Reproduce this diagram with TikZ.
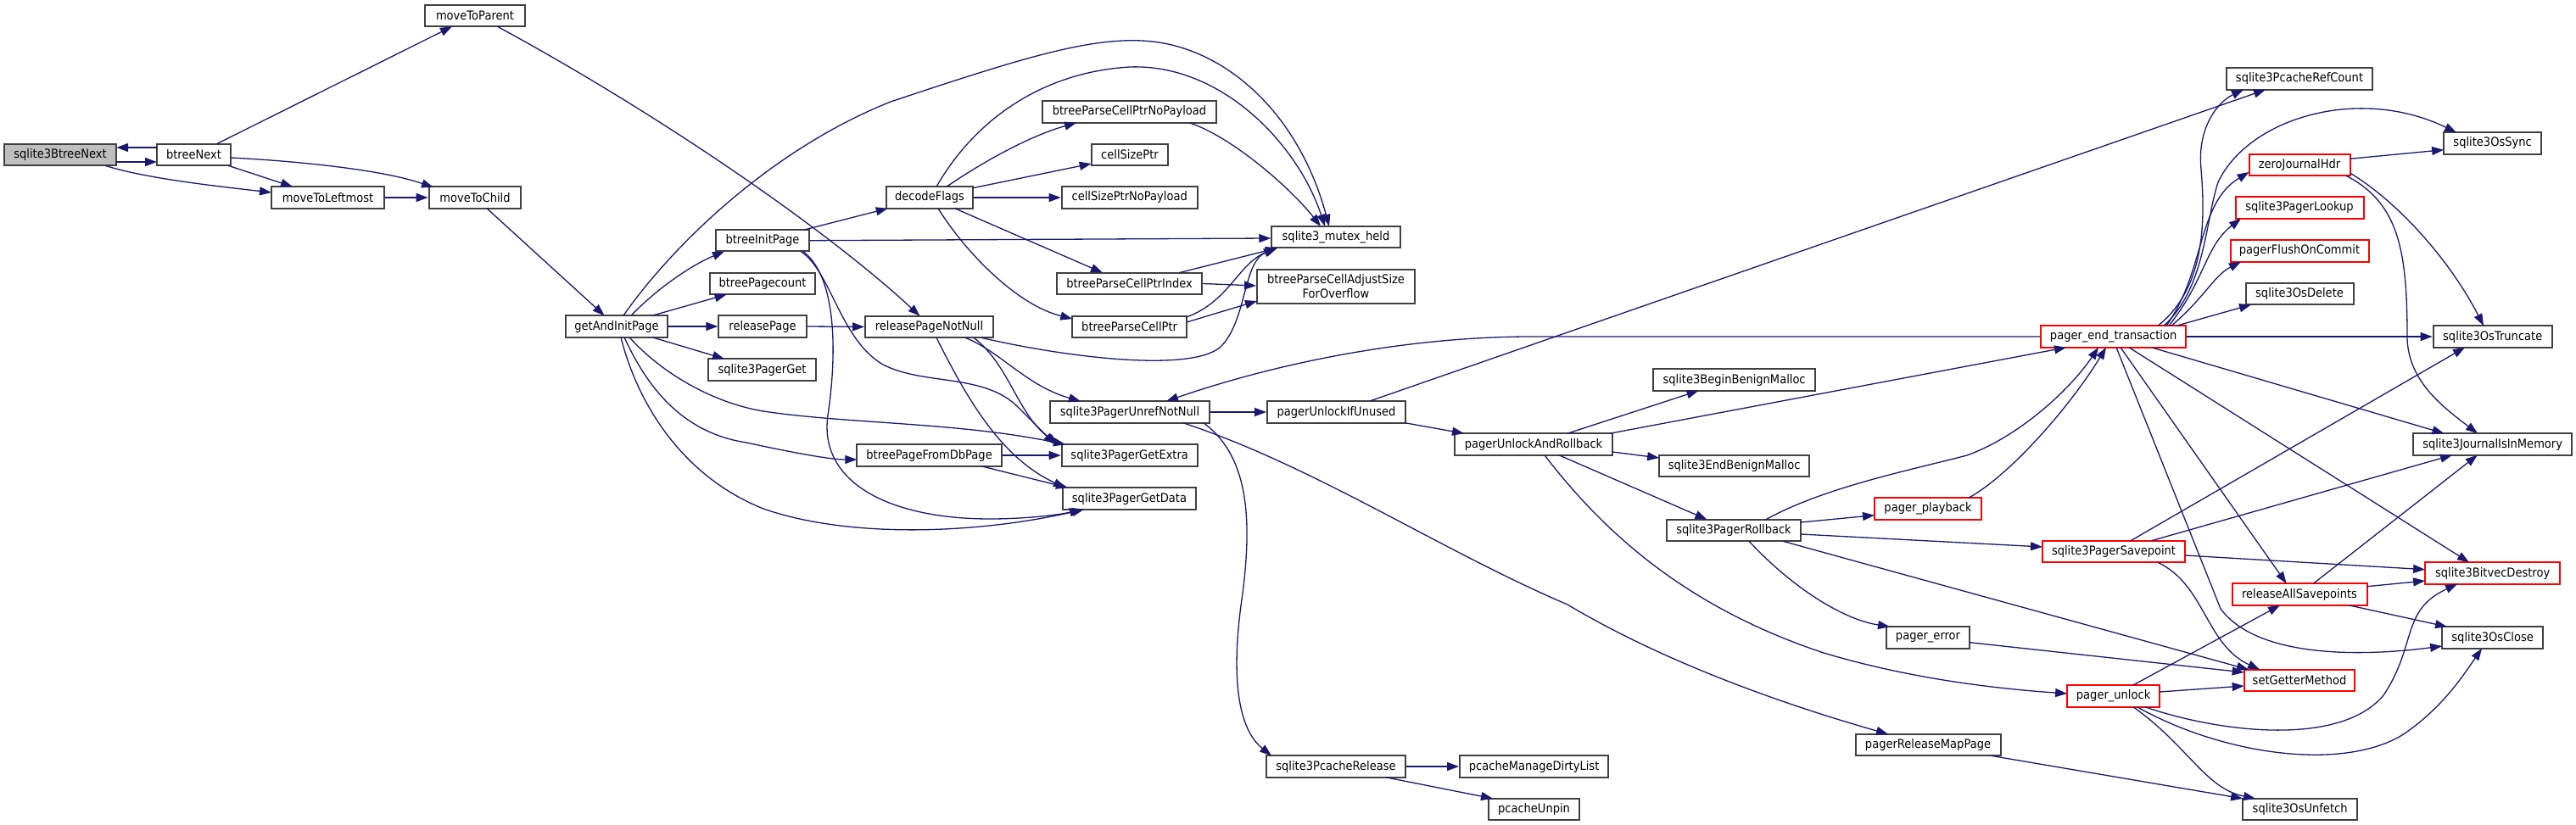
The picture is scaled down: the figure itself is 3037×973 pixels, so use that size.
\documentclass[tikz,border=0pt]{standalone}
\usepackage{fontspec}
\setmainfont{DejaVu Sans}[FakeStretch=0.9]
\usetikzlibrary{arrows.meta,calc}
\definecolor{edgeblue}{HTML}{191970}
\definecolor{boxgrey}{HTML}{404040}
\definecolor{rootfill}{HTML}{BFBFBF}
\tikzset{
  fn/.style={draw=boxgrey, line width=2pt, fill=white, minimum height=25.6pt, inner sep=0pt,
    font=\fontsize{14.5}{17}\selectfont, text=black},
  fnred/.style={fn, draw=red},
  fnroot/.style={fn, fill=rootfill},
  edge/.style={draw=edgeblue, line width=1.3pt, -{Triangle[length=14pt,width=10pt]}},
}
\begin{document}
\begin{tikzpicture}[x=1pt,y=-1pt]
\useasboundingbox[fill=white] (0,0) rectangle (3037,973);
% nodes
\node[fnroot, minimum width=132.4pt] (root) at (71,182.5) {sqlite3BtreeNext};
\node[fn, minimum width=87pt] (btreeNext) at (228.5,182.5) {btreeNext};
\node[fn, minimum width=117.5pt] (moveToParent) at (560,18.5) {moveToParent};
\node[fn, minimum width=133pt] (moveToLeftmost) at (386.5,233) {moveToLeftmost};
\node[fn, minimum width=108.6pt] (moveToChild) at (560,233) {moveToChild};
\node[fn, minimum width=120.5pt] (getAndInit) at (727,385) {getAndInitPage};
\node[fn, minimum width=109.5pt] (btreeInitPage) at (899,283.7) {btreeInitPage};
\node[fn, minimum width=124pt] (btreePagecount) at (899,334.5) {btreePagecount};
\node[fn, minimum width=103.3pt] (releasePage) at (899,385) {releasePage};
\node[fn, minimum width=127pt] (pagerGet) at (898.5,436) {sqlite3PagerGet};
\node[fn, minimum width=151pt] (rpnn) at (1095.5,385.5) {releasePageNotNull};
\node[fn, minimum width=102.3pt] (decodeFlags) at (1096,233) {decodeFlags};
\node[fn, minimum width=205.5pt] (noPayload) at (1331.5,132) {btreeParseCellPtrNoPayload};
\node[fn, minimum width=90.6pt] (cellSizePtr) at (1332,182.5) {cellSizePtr};
\node[fn, minimum width=160pt] (cellSizePtrNP) at (1331.7,233) {cellSizePtrNoPayload};
\node[fn, minimum width=170.6pt] (ptrIndex) at (1331.6,334.5) {btreeParseCellPtrIndex};
\node[fn, minimum width=134.7pt] (ptr) at (1331.6,385.5) {btreeParseCellPtr};
\node[fn, minimum width=151.5pt] (mutex) at (1575,279.7) {sqlite3\_mutex\_held};
\node[fn, minimum width=186pt, minimum height=40pt, align=center] (adjust) at (1575,338) {btreeParseCellAdjustSize\\ForOverflow};
\node[fn, minimum width=188.5pt] (unref) at (1332,486) {sqlite3PagerUnrefNotNull};
\node[fn, minimum width=163pt] (unlockIfUnused) at (1575.5,486) {pagerUnlockIfUnused};
\node[fn, minimum width=170.6pt] (fromDbPage) at (1095.6,537) {btreePageFromDbPage};
\node[fn, minimum width=160pt] (getExtra) at (1331.7,537) {sqlite3PagerGetExtra};
\node[fn, minimum width=157pt] (getData) at (1331.5,588) {sqlite3PagerGetData};
\node[fn, minimum width=164pt] (pcacheRelease) at (1575,904) {sqlite3PcacheRelease};
\node[fn, minimum width=191pt] (beginBenign) at (2044.6,448) {sqlite3BeginBenignMalloc};
\node[fn, minimum width=185.6pt] (unlockAndRollback) at (1808,524) {pagerUnlockAndRollback};
\node[fn, minimum width=177pt] (endBenign) at (2044.6,549.6) {sqlite3EndBenignMalloc};
\node[fn, minimum width=158pt] (rollback) at (2044,625.5) {sqlite3PagerRollback};
\node[fnred, minimum width=126pt] (playback) at (2273,600) {pager\_playback};
\node[fn, minimum width=98pt] (pagerError) at (2273,752) {pager\_error};
\node[fn, minimum width=171pt] (releaseMapPage) at (2273,878.6) {pagerReleaseMapPage};
\node[fn, minimum width=175pt] (dirtyList) at (1808.6,904) {pcacheManageDirtyList};
\node[fn, minimum width=107pt] (unpin) at (1808.5,954.6) {pcacheUnpin};
\node[fn, minimum width=172pt] (refCount) at (2711,93) {sqlite3PcacheRefCount};
\node[fn, minimum width=115pt] (osSync) at (2938.6,169) {sqlite3OsSync};
\node[fnred, minimum width=119pt] (zeroJH) at (2711,194.5) {zeroJournalHdr};
\node[fnred, minimum width=151pt] (lookup) at (2711,245) {sqlite3PagerLookup};
\node[fnred, minimum width=163pt] (flush) at (2711,296) {pagerFlushOnCommit};
\node[fn, minimum width=127pt] (osDelete) at (2711,346.5) {sqlite3OsDelete};
\node[fnred, minimum width=171pt] (pet) at (2491.6,397) {pager\_end\_transaction};
\node[fn, minimum width=140pt] (truncate) at (2938.7,397) {sqlite3OsTruncate};
\node[fn, minimum width=187pt] (jim) at (2938.6,524) {sqlite3JournalIsInMemory};
\node[fnred, minimum width=168pt] (savepoint) at (2492,650.5) {sqlite3PagerSavepoint};
\node[fnred, minimum width=159pt] (bitvec) at (2938.6,676) {sqlite3BitvecDestroy};
\node[fnred, minimum width=159pt] (releaseAll) at (2711,701) {releaseAllSavepoints};
\node[fn, minimum width=119pt] (osClose) at (2938.6,752) {sqlite3OsClose};
\node[fnred, minimum width=130.7pt] (setGetter) at (2711,802.5) {setGetterMethod};
\node[fnred, minimum width=109pt] (unlock) at (2491.6,821) {pager\_unlock};
\node[fn, minimum width=135pt] (unfetch) at (2711.6,954.6) {sqlite3OsUnfetch};
% edges
\draw[edge] ($(btreeNext)+(-43.5,-8.5)$) -- ($(root)+(66.2,-8.5)$);
\draw[edge] ($(root)+(66.2,8.5)$) -- ($(btreeNext)+(-43.5,8.5)$);
\draw[edge] ($(root)+(53,12.8)$) .. controls (170,210) and (250,219) .. ($(moveToLeftmost)+(-66.5,-6)$);
\draw[edge] ($(btreeNext)+(27,-12.8)$) -- ($(moveToParent)+(-27,12.8)$);
\draw[edge] ($(btreeNext)+(40.5,12.8)$) -- ($(moveToLeftmost)+(-41.5,-12.8)$);
\draw[edge] ($(btreeNext)+(43.5,3.5)$) .. controls (350,190) and (450,200) .. ($(moveToChild)+(-49,-12)$);
\draw[edge] (moveToLeftmost.east) -- (moveToChild.west);
\draw[edge] ($(moveToChild)+(14,12.8)$) -- ($(getAndInit)+(-14.4,-12.8)$);
\draw[edge] ($(moveToParent)+(26.5,12.8)$) .. controls (783,138) and (977,273) .. ($(rpnn)+(-11,-12.8)$);
\draw[edge] ($(getAndInit)+(8,-12.8)$) .. controls (785,300) and (900,180) .. (1050,120)
   .. controls (1200,70) and (1280,45) .. (1346,48) .. controls (1440,52) and (1530,130) .. ($(mutex)+(-8,-12.8)$);
\draw[edge] ($(getAndInit)+(17,-12.8)$) .. controls (770,345) and (810,315) .. ($(btreeInitPage)+(-45,12.8)$);
\draw[edge] ($(getAndInit)+(42,-12.8)$) -- ($(btreePagecount)+(-42.4,12.8)$);
\draw[edge] (getAndInit.east) -- (releasePage.west);
\draw[edge] ($(getAndInit)+(42,12.8)$) -- ($(pagerGet)+(-44.5,-12.8)$);
\draw[edge] ($(getAndInit)+(15,12.8)$) .. controls (780,440) and (840,475) .. (900,485)
   .. controls (1000,500) and (1130,498) .. ($(getExtra)+(-75.7,-12.8)$);
\draw[edge] ($(getAndInit)+(9,12.8)$) .. controls (760,450) and (800,510) .. (880,522)
   .. controls (940,535) and (980,542) .. ($(fromDbPage)+(-85.3,5)$);
\draw[edge] ($(getAndInit)+(5,12.8)$) .. controls (750,470) and (800,560) .. (900,600)
   .. controls (1000,635) and (1150,630) .. ($(getData)+(-53.5,12.8)$);
\draw[edge] ($(btreeInitPage)+(49.7,-12.8)$) -- ($(decodeFlags)+(-49.3,12.8)$);
\draw[edge] (btreeInitPage.east) -- ($(mutex.west)+(0,1.3)$);
\draw[edge] ($(btreeInitPage)+(45,12.8)$) .. controls (980,320) and (990,400) .. (1041,430)
   .. controls (1090,455) and (1160,440) .. (1200,480) .. controls (1220,500) and (1235,515) .. ($(getExtra)+(-87.7,-12.8)$);
\draw[edge] ($(btreeInitPage)+(48,12.8)$) .. controls (990,330) and (985,430) .. (976,490)
   .. controls (965,570) and (1050,612) .. (1167,612) .. controls (1210,612) and (1250,607) .. ($(getData)+(-56.5,12.8)$);
\draw[edge] ($(decodeFlags)+(20,-12.8)$) .. controls (1160,190) and (1215,160) .. ($(noPayload)+(-62.5,12.8)$);
\draw[edge] ($(decodeFlags)+(51.15,-11.3)$) -- ($(cellSizePtr)+(-45.3,10.5)$);
\draw[edge] (decodeFlags.east) -- (cellSizePtrNP.west);
\draw[edge] ($(decodeFlags)+(29.7,12.8)$) -- ($(ptrIndex)+(-31.6,-12.8)$);
\draw[edge] ($(decodeFlags)+(10,12.8)$) .. controls (1140,300) and (1200,360) .. ($(ptr)+(-67.35,-9.5)$);
\draw[edge] ($(decodeFlags)+(8,-12.8)$) .. controls (1150,140) and (1230,85) .. (1332,79)
   .. controls (1440,75) and (1530,170) .. ($(mutex)+(-13,-12.8)$);
\draw[edge] ($(noPayload)+(70.5,12.8)$) .. controls (1450,160) and (1520,220) .. ($(mutex)+(-18,-12.8)$);
\draw[edge] ($(ptrIndex)+(58.4,-12.8)$) -- ($(mutex)+(-69,12.8)$);
\draw[edge] (ptrIndex.east) -- ($(adjust.west)+(0,-1)$);
\draw[edge] ($(ptr)+(67.35,-11.5)$) .. controls (1450,355) and (1460,310) .. ($(mutex)+(-69,12.8)$);
\draw[edge] ($(ptr)+(67.35,-5.5)$) -- ($(adjust)+(-93,17)$);
\draw[edge] (releasePage.east) -- (rpnn.west);
\draw[edge] ($(rpnn)+(61.5,12.8)$) .. controls (1250,420) and (1400,440) .. (1438,410)
   .. controls (1470,380) and (1465,310) .. ($(mutex)+(-71,12.8)$);
\draw[edge] ($(rpnn)+(42.5,12.8)$) .. controls (1180,415) and (1210,455) .. ($(unref)+(-58,-12.8)$);
\draw[edge] ($(rpnn)+(52.5,12.8)$) .. controls (1190,430) and (1200,490) .. ($(getExtra)+(-83.7,-12.8)$);
\draw[edge] ($(rpnn)+(8.5,12.8)$) .. controls (1140,470) and (1180,540) .. ($(getData)+(-75.5,-12.8)$);
\draw[edge] (fromDbPage.east) -- (getExtra.west);
\draw[edge] ($(fromDbPage)+(61.4,12.8)$) -- ($(getData)+(-72.5,-12.8)$);
\draw[edge] (unref.east) -- (unlockIfUnused.west);
\draw[edge] ($(unref)+(87,12.8)$) .. controls (1475,540) and (1475,620) .. (1465,700)
   .. controls (1450,800) and (1460,860) .. ($(pcacheRelease)+(-76,-12.8)$);
\draw[edge] ($(unref)+(63,12.8)$) .. controls (1550,550) and (1700,650) .. (1848,713)
   .. controls (1960,780) and (2100,830) .. ($(releaseMapPage)+(-47,-12.8)$);
\draw[edge] (pet.west) -- (1800,397) .. controls (1650,398) and (1500,430) .. ($(unref)+(43,-12.8)$);
\draw[edge] ($(unlockIfUnused)+(38.9,-12.8)$) -- ($(refCount)+(-40,12.8)$);
\draw[edge] ($(unlockIfUnused)+(81.2,12.8)$) -- ($(unlockAndRollback)+(-82,-12.8)$);
\draw[edge] ($(unlockAndRollback)+(40,-12.8)$) -- ($(beginBenign)+(-42.1,12.8)$);
\draw[edge] ($(unlockAndRollback)+(90,-12.8)$) -- ($(pet)+(-55.6,12.8)$);
\draw[edge] ($(unlockAndRollback)+(92.8,9)$) -- ($(endBenign)+(-88.5,-9.6)$);
\draw[edge] ($(unlockAndRollback)+(30,12.8)$) -- ($(rollback)+(-31.6,-12.8)$);
\draw[edge] ($(unlockAndRollback)+(13,12.8)$) .. controls (1900,640) and (2000,720) .. (2150,770)
   .. controls (2250,800) and (2350,812) .. ($(unlock)+(-54.5,-3)$);
\draw[edge] ($(rollback)+(38,-12.8)$) .. controls (2150,575) and (2250,555) .. (2319,537)
   .. controls (2380,515) and (2440,460) .. ($(pet)+(-17.6,12.8)$);
\draw[edge] ($(rollback)+(79,-9.5)$) -- ($(playback)+(-63,7.7)$);
\draw[edge] ($(rollback)+(79,4.5)$) -- ($(savepoint)+(-84,-5.5)$);
\draw[edge] ($(rollback)+(58,12.8)$) -- ($(setGetter)+(-60,-12.8)$);
\draw[edge] ($(rollback)+(18,12.8)$) .. controls (2110,690) and (2170,730) .. ($(pagerError)+(-45,-12.8)$);
\draw[edge] ($(playback)+(48,-12.8)$) .. controls (2370,560) and (2440,480) .. ($(pet)+(-8.6,12.8)$);
\draw[edge] ($(pagerError)+(49,5.7)$) -- ($(setGetter)+(-65.35,-9.5)$);
\draw[edge] ($(releaseMapPage)+(75,12.8)$) -- ($(unfetch)+(-67.5,-12.8)$);
\draw[edge] ($(pet)+(52.4,-12.8)$) .. controls (2600,340) and (2600,260) .. (2595,200)
   .. controls (2590,150) and (2615,120) .. ($(refCount)+(-66,12.8)$);
\draw[edge] ($(pet)+(59.4,-12.8)$) .. controls (2600,340) and (2600,260) .. (2615,215)
   .. controls (2650,140) and (2780,100) .. ($(osSync)+(-42.6,-12.8)$);
\draw[edge] ($(pet)+(62.4,-12.8)$) .. controls (2600,320) and (2590,240) .. ($(zeroJH)+(-59.5,8.5)$);
\draw[edge] ($(pet)+(65.4,-12.8)$) .. controls (2600,330) and (2600,290) .. ($(lookup)+(-69,12.8)$);
\draw[edge] ($(pet)+(68.4,-12.8)$) .. controls (2600,350) and (2610,325) .. ($(flush)+(-69,12.8)$);
\draw[edge] ($(pet)+(74.4,-12.8)$) -- ($(osDelete)+(-57,12.8)$);
\draw[edge] (pet.east) -- (truncate.west);
\draw[edge] ($(pet)+(45,12.8)$) -- ($(jim)+(-57.1,-12.8)$);
\draw[edge] ($(pet)+(18.4,12.8)$) -- ($(bitvec)+(-27.6,-12.8)$);
\draw[edge] ($(pet)+(8.4,12.8)$) -- ($(releaseAll)+(-15.4,-12.8)$);
\draw[edge] ($(pet)+(3.4,12.8)$) -- (2618,718) .. controls (2660,775) and (2780,775) .. ($(osClose)+(-59.5,10)$);
\draw[edge] ($(zeroJH)+(59.5,-7.2)$) -- ($(osSync)+(-57.5,7.7)$);
\draw[edge] ($(zeroJH)+(59.5,9.5)$) .. controls (2830,240) and (2890,310) .. ($(truncate)+(-10.7,-12.8)$);
\draw[edge] ($(zeroJH)+(55,12.8)$) .. controls (2830,240) and (2838,300) .. (2838,400)
   .. controls (2840,450) and (2880,480) .. ($(jim)+(-17.6,-12.8)$);
\draw[edge] ($(savepoint)+(20,-12.8)$) -- ($(truncate)+(-32.7,12.8)$);
\draw[edge] ($(savepoint)+(44.6,-12.8)$) -- ($(jim)+(-47.6,12.8)$);
\draw[edge] ($(savepoint)+(84,4.5)$) -- ($(bitvec)+(-79.5,-4.3)$);
\draw[edge] ($(savepoint)+(52,12.8)$) .. controls (2600,690) and (2600,760) .. ($(setGetter)+(-47,-12.8)$);
\draw[edge] ($(releaseAll)+(16.4,-12.8)$) -- ($(jim)+(-17.9,12.8)$);
\draw[edge] ($(releaseAll)+(79.5,-9.3)$) -- ($(bitvec)+(-79.5,9)$);
\draw[edge] ($(releaseAll)+(58,12.8)$) -- ($(osClose)+(-53.6,-12.8)$);
\draw[edge] ($(unlock)+(23,-12.8)$) -- ($(releaseAll)+(-23,12.8)$);
\draw[edge] ($(unlock)+(54.5,-5)$) -- ($(setGetter)+(-65.35,6.5)$);
\draw[edge] ($(unlock)+(37.4,12.8)$) .. controls (2620,865) and (2760,880) .. (2810,820)
   .. controls (2850,760) and (2830,720) .. ($(bitvec)+(-41.6,12.8)$);
\draw[edge] ($(unlock)+(28,12.8)$) .. controls (2620,890) and (2760,910) .. (2832,867)
   .. controls (2880,835) and (2905,795) .. ($(osClose)+(-12.6,12.8)$);
\draw[edge] ($(unlock)+(23.4,12.8)$) .. controls (2580,880) and (2600,930) .. ($(unfetch)+(-52.6,-12.8)$);
\draw[edge] (pcacheRelease.east) -- (dirtyList.west);
\draw[edge] ($(pcacheRelease)+(59,12.8)$) -- ($(unpin)+(-48.5,-12.8)$);
\end{tikzpicture}
\end{document}
